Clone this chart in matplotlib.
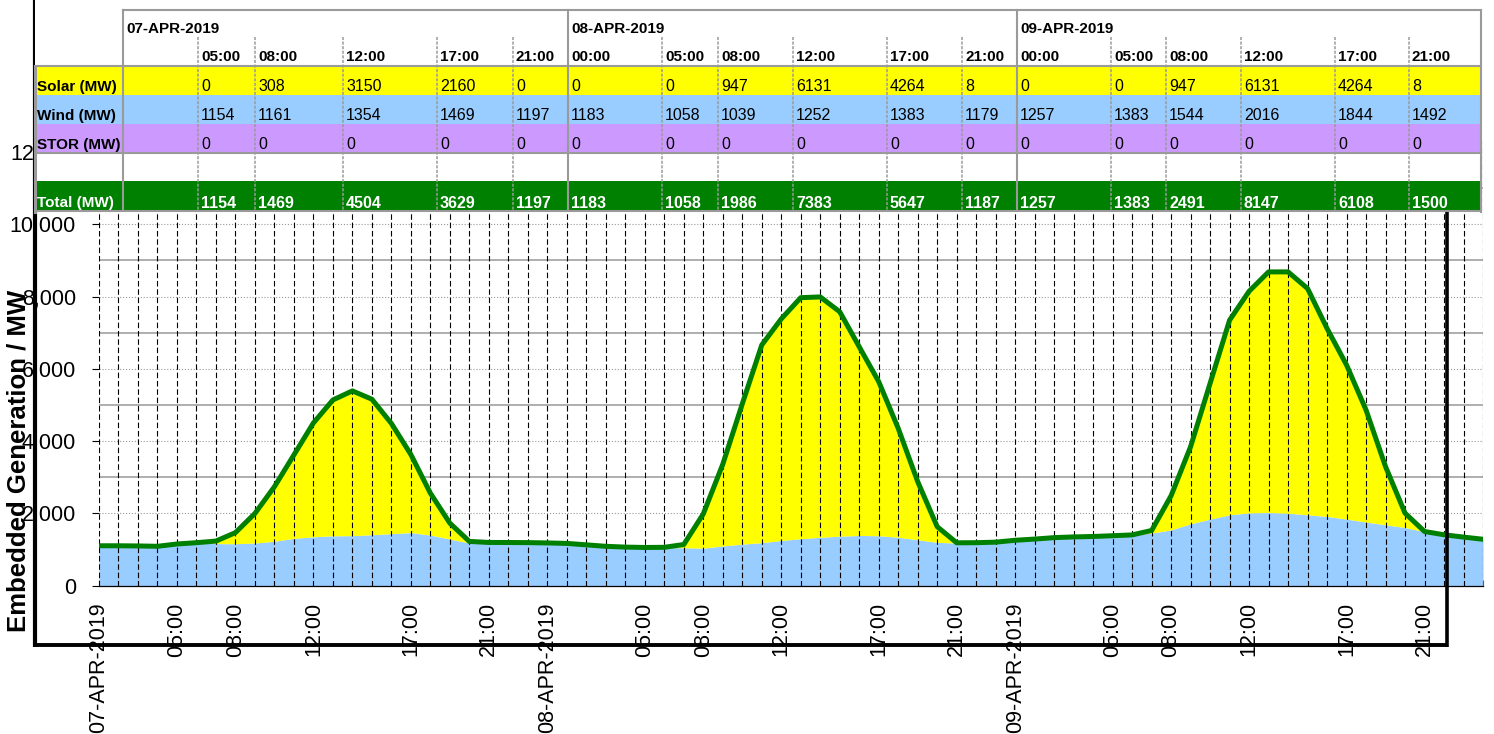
import matplotlib
matplotlib.use('Agg')
import matplotlib.pyplot as plt
from matplotlib.lines import Line2D
from matplotlib.patches import Rectangle
from matplotlib.ticker import MultipleLocator, FuncFormatter

# hourly embedded generation, 07-APR-2019 01:00 onwards
wind_mw = [1105, 1105, 1100, 1090, 1154, 1190, 1165, 1161, 1180, 1230,
           1310, 1354, 1380, 1385, 1410, 1440, 1469, 1400, 1290, 1180,
           1197, 1195, 1192, 1183, 1170, 1130, 1090, 1068, 1058, 1062,
           1050, 1039, 1100, 1150, 1190, 1252, 1300, 1340, 1370, 1390,
           1383, 1340, 1270, 1200, 1179, 1190, 1205, 1257, 1290, 1330,
           1350, 1362, 1383, 1405, 1455, 1544, 1713, 1842, 1961, 2016,
           2025, 2007, 1961, 1915, 1844, 1760, 1685, 1610, 1492, 1409,
           1345, 1285]
solar_mw = [0, 0, 0, 0, 0, 0, 70, 308, 820, 1510,
            2310, 3150, 3760, 4005, 3750, 3050, 2160, 1160, 440, 45,
            0, 0, 0, 0, 0, 0, 0, 0, 0, 0,
            90, 947, 2260, 3880, 5470, 6131, 6670, 6650, 6210, 5220,
            4264, 3015, 1610, 433, 8, 0, 0, 0, 0, 0,
            0, 0, 0, 0, 73, 947, 2135, 3758, 5387, 6131,
            6658, 6676, 6262, 5203, 4264, 3102, 1611, 397, 8, 0,
            0, 0]
stor_mw = [0] * 72

x_tick_pos = [0, 4, 7, 11, 16, 20, 23, 28, 31, 35, 40, 44, 47, 52, 55, 59, 64, 68]
x_tick_labels = ['07-APR-2019', '05:00', '08:00', '12:00', '17:00', '21:00',
                 '08-APR-2019', '05:00', '08:00', '12:00', '17:00', '21:00',
                 '09-APR-2019', '05:00', '08:00', '12:00', '17:00', '21:00']

table_days = ['07-APR-2019', '08-APR-2019', '09-APR-2019']
table_times = [['', '05:00', '08:00', '12:00', '17:00', '21:00'],
               ['00:00', '05:00', '08:00', '12:00', '17:00', '21:00'],
               ['00:00', '05:00', '08:00', '12:00', '17:00', '21:00']]
table_idx = [[None, 4, 7, 11, 16, 20],
             [23, 28, 31, 35, 40, 44],
             [47, 52, 55, 59, 64, 68]]

total_mw = [w + s + t for w, s, t in zip(wind_mw, solar_mw, stor_mw)]
hours = list(range(len(total_mw)))

W, H = 1494, 734
plt.rcParams['font.family'] = ['Liberation Sans', 'DejaVu Sans']

fig = plt.figure(figsize=(W / 100, H / 100), dpi=100)

# ---- chart (pixel layout) ----
px_hour = 19.54
px_k = 36.14
x0, y0 = 99, 585.7
ytop = 12300
ax = fig.add_axes([x0 / W, (H - y0) / H, 1384 / W, ytop / 1000 * px_k / H], zorder=0)
ax.set_xlim(0, 1384 / px_hour)
ax.set_ylim(0, ytop)

ax.fill_between(hours, 0, wind_mw, color='#99CCFF', lw=0, zorder=1)
ax.fill_between(hours, wind_mw, [w + s for w, s in zip(wind_mw, solar_mw)],
                color='#FFFF00', lw=0, zorder=1)
ax.vlines(hours, 0, ytop, colors='black', linestyles=(0, (5, 2.5)), lw=0.8, zorder=1.6)
ax.plot(hours, total_mw, color='#008000', lw=3.6, zorder=3)

ax.set_axisbelow(True)
ax.yaxis.set_major_locator(MultipleLocator(2000))
ax.yaxis.set_minor_locator(MultipleLocator(1000))
ax.yaxis.set_major_formatter(FuncFormatter(lambda v, p: f'{int(v):,}'))
ax.grid(axis='y', which='major', color='#999999', ls=':', lw=0.8)
ax.grid(axis='y', which='minor', color='#999999', ls='-', lw=1.1)
ax.tick_params(axis='y', which='major', direction='out', length=5, width=0.8,
               pad=11.5, labelsize=15.5)
ax.tick_params(axis='y', which='minor', length=0)

ax.set_xticks(x_tick_pos)
ax.set_xticklabels(x_tick_labels, rotation=90, fontsize=15.5)
ax.set_xticks(hours, minor=True)
ax.tick_params(axis='x', which='both', direction='in', length=4, width=0.8, pad=12)

for s in ['left', 'top', 'right']:
    ax.spines[s].set_visible(False)
ax.spines['bottom'].set_linewidth(0.9)

fig.text(19 / W, 1 - 461 / H, 'Embedded Generation / MW', rotation=90,
         fontsize=18.5, fontweight='bold', ha='center', va='center')

# ---- outer frame lines ----
def fig_line(xs, ys, lw):
    fig.add_artist(Line2D([x / W for x in xs], [1 - y / H for y in ys],
                          color='black', lw=lw, zorder=2, solid_capstyle='butt'))

fig_line([35, 35], [0, 647], 3.0)
fig_line([33.5, 1447], [645, 645], 2.8)
fig_line([1447, 1447], [150, 646.5], 2.6)

# ---- data table on top ----
tx0, tx1, ty1 = 35, 1481, 211.5
axt = fig.add_axes([tx0 / W, 1 - ty1 / H, (tx1 - tx0) / W, ty1 / H], zorder=3)
axt.set_xlim(tx0, tx1)
axt.set_ylim(ty1, 0)
axt.set_xticks([])
axt.set_yticks([])
for s in axt.spines.values():
    s.set_visible(False)
axt.set_facecolor('white')

col_edges = [[123, 198, 255, 343, 437, 513],
             [568, 662, 718, 793, 887, 962],
             [1017, 1111, 1166, 1241, 1335, 1409]]
rows = [('Solar (MW)', '#FFFF00', 66, 95, 'black'),
        ('Wind (MW)', '#99CCFF', 95, 124, 'black'),
        ('STOR (MW)', '#CC99FF', 124, 153, 'black'),
        ('', 'white', 153, 181, 'black'),
        ('Total (MW)', '#008000', 181, 211.5, 'white')]
row_vals = [solar_mw, wind_mw, stor_mw, None, total_mw]
fs = 11
grey = '#9a9a9a'

for (lab, col, ya, yb, tc), vals in zip(rows, row_vals):
    axt.add_patch(Rectangle((tx0, ya), tx1 - tx0, yb - ya, facecolor=col, lw=0, zorder=1))
    if lab:
        axt.text(37, yb - 4, lab, fontsize=fs, fontweight='bold',
                 color=tc, va='baseline', ha='left', zorder=4)
    if vals is None:
        continue
    for d in range(3):
        for c in range(6):
            i = table_idx[d][c]
            if i is None:
                continue
            axt.text(col_edges[d][c] + 3, yb - 4, str(vals[i]),
                     fontsize=fs + 0.5, color=tc, va='baseline', ha='left',
                     fontweight='bold' if lab.startswith('Total') else 'normal', zorder=4)

for d in range(3):
    axt.text(col_edges[d][0] + 3, 33, table_days[d], fontsize=fs,
             fontweight='bold', va='baseline', ha='left', zorder=4)
    for c in range(6):
        xe = col_edges[d][c]
        if table_times[d][c]:
            axt.text(xe + 3, 61, table_times[d][c], fontsize=fs,
                     fontweight='bold', va='baseline', ha='left', zorder=4)
        if c == 0:
            axt.plot([xe, xe], [10, ty1], color=grey, lw=1.5, zorder=3)
        else:
            axt.plot([xe, xe], [37, ty1], color=grey, lw=1.1, ls=(0, (2, 1)), zorder=3)

axt.plot([123, tx1], [10, 10], color=grey, lw=1.5, zorder=3)
axt.plot([tx1, tx1], [10, ty1], color=grey, lw=1.5, zorder=3, clip_on=False)
for yy in [66, 153, ty1 - 0.8]:
    axt.plot([tx0, tx1], [yy, yy], color=grey, lw=1.5, zorder=3, clip_on=False)
axt.plot([tx0, tx0], [66, ty1], color=grey, lw=2.2, zorder=3, clip_on=False)

fig.savefig('out.png', dpi=100)
